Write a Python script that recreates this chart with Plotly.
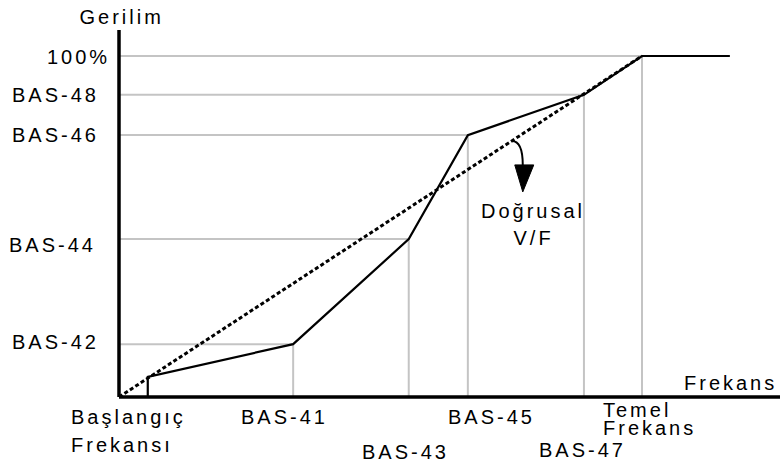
import plotly.graph_objects as go

# ---- data (percent of base frequency / percent of voltage) ----
freq_names = ["Başlangıç Frekansı", "BAS-41", "BAS-43", "BAS-45", "BAS-47", "Temel Frekans"]
freq_values = [5.5, 33.3, 55.4, 66.7, 88.9, 100.0]
volt_names = ["", "BAS-42", "BAS-44", "BAS-46", "BAS-48", "100%"]
volt_values = [5.9, 15.5, 46.3, 76.8, 88.6, 100.0]
freq_end = 116.8
linear_x = [0.0, 100.0]
linear_y = [0.0, 100.0]
arrow_start = 75.1          # point on the linear V/F line where the arrow starts

W, H = 780, 466
L, R, T, B = 119, 0, 30, 69
PW, PH = W - L - R, H - T - B
XS, YS = 5.23, 3.41         # px per percent
x_range = [0, PW / XS]
y_range = [0, PH / YS]

FONT = "Liberation Sans, Arial, sans-serif"
GRID = "#c4c4c4"

fig = go.Figure()

# grey guide lines
gx, gy = [], []
for f, v in zip(freq_values[1:], volt_values[1:]):
    gx += [0, f, None, f, f, None]
    gy += [v, v, None, 0, v, None]
fig.add_trace(go.Scatter(x=gx, y=gy, mode="lines",
                         line=dict(color=GRID, width=2), hoverinfo="skip"))

# linear V/F (dotted)
fig.add_trace(go.Scatter(x=linear_x, y=linear_y, mode="lines",
                         line=dict(color="black", width=3, dash="4px,2.5px"),
                         hoverinfo="skip"))

# user V/F pattern (solid)
cx = [freq_values[0]] + freq_values + [freq_end]
cy = [0] + volt_values + [volt_values[-1]]
fig.add_trace(go.Scatter(x=cx, y=cy, mode="lines",
                         line=dict(color="black", width=2.2), hoverinfo="skip"))

shapes = []
# axes
shapes.append(dict(type="line", xref="paper", yref="paper", x0=0, y0=0, x1=0, y1=1,
                   line=dict(color="black", width=3.5), layer="above"))
shapes.append(dict(type="line", xref="paper", yref="paper", x0=0, y0=0, x1=1, y1=0,
                   line=dict(color="black", width=3.5), layer="above"))

# curved arrow from the linear line
def d(px, py):
    return (px - L) / XS, (H - B - py) / YS

ax0, ay0 = arrow_start, arrow_start
sx, sy = ax0 * XS + L, H - B - ay0 * YS
c = d(sx + 11, sy)
e = d(sx + 11, sy + 24)
shapes.append(dict(type="path", xref="x", yref="y",
                   path=f"M {ax0},{ay0} Q {c[0]},{c[1]} {e[0]},{e[1]}",
                   line=dict(color="black", width=2)))
h1 = d(sx + 3, sy + 24)
h2 = d(sx + 22, sy + 24)
h3 = d(sx + 11, sy + 51)
shapes.append(dict(type="path", xref="x", yref="y",
                   path=f"M {h1[0]},{h1[1]} L {h2[0]},{h2[1]} L {h3[0]},{h3[1]} Z",
                   fillcolor="black", line=dict(color="black", width=1)))

# ---- labels ----
def px2paper(px, py):
    return (px - L) / PW, (H - B - py) / PH

labels = [
    # text, x px, y px, anchor
    ("Gerilim", 121, 17, "center"),
    ("100%", 111, 57, "right"),
    ("BAS-48", 11, 95, "left"),
    ("BAS-46", 11, 135, "left"),
    ("BAS-44", 8, 245, "left"),
    ("BAS-42", 11, 342, "left"),
    ("Frekans", 683, 383, "left"),
    ("Başlangıç", 70, 417, "left"),
    ("Frekansı", 70, 445, "left"),
    ("BAS-41", 240, 417, "left"),
    ("BAS-43", 361, 452, "left"),
    ("BAS-45", 447, 417, "left"),
    ("BAS-47", 538, 450, "left"),
    ("Temel", 602, 410, "left"),
    ("Frekans", 602, 428, "left"),
    ("Doğrusal", 533, 211, "center"),
    ("V/F", 533, 238, "center"),
]
annotations = []
for text, px, py, anc in labels:
    x, y = px2paper(px, py)
    annotations.append(dict(text=text, x=x, y=y, xref="paper", yref="paper",
                            xanchor=anc, yanchor="middle", align=anc,
                            showarrow=False, borderpad=0,
                            font=dict(family=FONT, size=20, color="black")))

fig.update_layout(
    width=W, height=H,
    margin=dict(l=L, r=R, t=T, b=B),
    paper_bgcolor="white", plot_bgcolor="white",
    showlegend=False,
    xaxis=dict(range=x_range, showgrid=False, zeroline=False, showticklabels=False,
               ticks="", showline=False, fixedrange=True),
    yaxis=dict(range=y_range, showgrid=False, zeroline=False, showticklabels=False,
               ticks="", showline=False, fixedrange=True),
    shapes=shapes,
    annotations=annotations,
)

post = ("document.body.style.margin='0';document.body.style.overflow='hidden';"
        "document.querySelectorAll('.annotation-text').forEach(function(t){"
        "t.style.letterSpacing='3px';});")
fig.write_html("out.html", post_script=post, config={"displayModeBar": False})
